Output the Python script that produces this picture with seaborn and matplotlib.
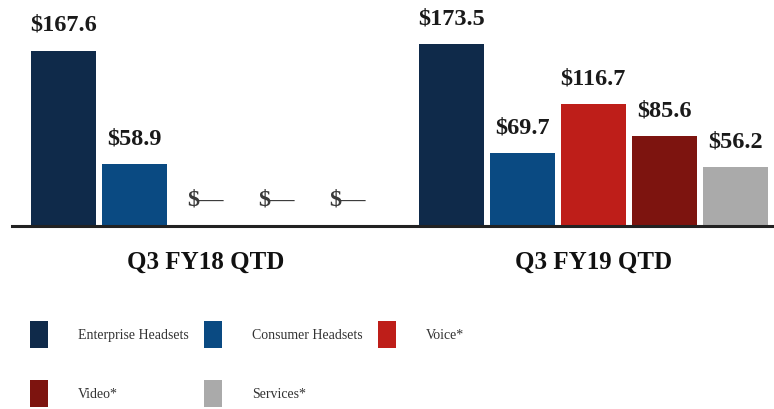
import matplotlib
matplotlib.use("Agg")
import matplotlib.pyplot as plt
import seaborn as sns
import pandas as pd

# Revenue by segment, in millions of dollars
quarters = ["Q3 FY18 QTD", "Q3 FY19 QTD"]
segments = ["Enterprise Headsets", "Consumer Headsets", "Voice*", "Video*", "Services*"]
fy18_values = [167.6, 58.9, 0.0, 0.0, 0.0]
fy19_values = [173.5, 69.7, 116.7, 85.6, 56.2]
colors = ["#0f2a4a", "#0a4a82", "#be1e19", "#7d140f", "#aaaaaa"]

df = pd.DataFrame({
    "quarter": [quarters[0]] * len(segments) + [quarters[1]] * len(segments),
    "segment": segments * 2,
    "value": fy18_values + fy19_values,
})

sns.set_theme(style="white")
plt.rcParams["font.family"] = ["Liberation Serif", "DejaVu Serif"]

W, H = 774, 409
fig = plt.figure(figsize=(W / 100, H / 100), dpi=100)
ax = fig.add_axes([12.5 / W, (H - 225.5) / H, (773 - 12.5) / W, 225.5 / H])

sns.barplot(data=df, x="quarter", y="value", hue="segment", hue_order=segments,
            order=quarters, palette=colors, saturation=1, width=0.915, gap=0.085,
            linewidth=0, ax=ax)

# Value labels; segments without revenue show a dash
for container in ax.containers:
    vals = container.datavalues
    labels = ["$\u2014" if v == 0 else f"${v:.1f}" for v in vals]
    texts = ax.bar_label(container, labels=labels, padding=10.5, fontsize=17.5,
                         fontweight="bold", color="#1a1a1a")
    for t, v in zip(texts, vals):
        if v == 0:
            t.set_color("#3a3a3a")

ax.set_xlim(-0.497, 1.463)
ax.set_ylim(0, 216)
ax.set_yticks([])
ax.set_xlabel("")
ax.set_ylabel("")
for side in ["left", "top", "right"]:
    ax.spines[side].set_visible(False)
ax.spines["bottom"].set_linewidth(2.2)
ax.spines["bottom"].set_color("#222222")
ax.tick_params(axis="x", length=0, pad=18.5, labelsize=18, labelcolor="#111111")
for lbl in ax.get_xticklabels():
    lbl.set_fontweight("bold")

handles, labels = ax.get_legend_handles_labels()
ax.get_legend().remove()
order = [0, 3, 1, 4, 2]
fig.legend([handles[i] for i in order], [labels[i] for i in order],
           loc="upper left", bbox_to_anchor=(30 / W, (H - 321) / H), ncol=3,
           frameon=False, fontsize=10, handlelength=1.3, handleheight=2.61,
           handletextpad=2.16, columnspacing=1.1, labelspacing=2.3,
           borderpad=0, borderaxespad=0, labelcolor="#333333")

fig.savefig("out.png", dpi=100)
